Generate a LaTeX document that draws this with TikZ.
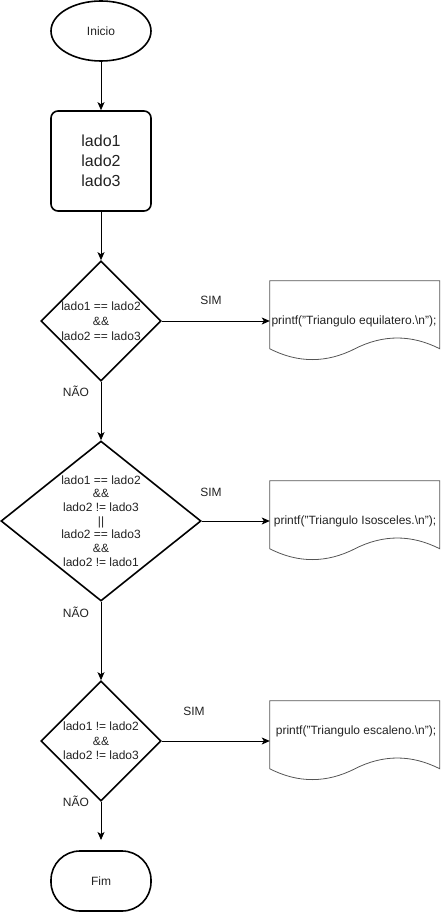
\documentclass[tikz,border=0pt]{standalone}
\usepackage{fontspec}
\setmainfont{Liberation Sans}
\usetikzlibrary{shapes.geometric,arrows.meta,calc}
\definecolor{txtc}{HTML}{222222}
\definecolor{docc}{HTML}{555555}
\tikzset{
  thick shape/.style={draw=black, line width=1.6pt, inner sep=0pt, text=txtc},
  term/.style={thick shape, ellipse, minimum width=100pt, minimum height=60pt, font=\fontsize{12}{14}\selectfont},
  inbox/.style={thick shape, rectangle, rounded corners=7pt, minimum width=100pt, minimum height=100pt, align=center, font=\fontsize{16}{20}\selectfont},
  dia/.style={thick shape, diamond},
  cond/.style={align=center, text=txtc, inner sep=0pt},
  docarea/.style={rectangle, inner sep=0pt, minimum width=170pt, minimum height=80pt},
  docline/.style={draw=docc, line width=0.8pt},
  doctext/.style={text=txtc, inner sep=0pt, font=\fontsize{12}{14}\selectfont},
  lbl/.style={text=txtc, inner sep=0pt, font=\fontsize{12}{14}\selectfont},
  flow/.style={draw=black, line width=0.9pt, -{Stealth[length=8pt,width=7pt,inset=2pt]}},
  fimbox/.style={thick shape, rectangle, rounded corners=29pt, minimum width=100pt, minimum height=60pt, font=\fontsize{12}{14}\selectfont}
}
\begin{document}
\begin{tikzpicture}[x=1pt,y=-1pt]
\useasboundingbox (0,0) rectangle (440,912);
% start
\node[term] (inicio) at (101,31) {Inicio};
\node[inbox] (lados) at (101,161) {lado1\\lado2\\lado3};
% decision 1
\node[dia, minimum width=120pt, minimum height=120pt] (d1) at (101,321) {};
\node[cond, font=\fontsize{12}{15}\selectfont] (t1) at (d1) {lado1 == lado2\\\&\&\\lado2 == lado3};
% decision 2
\node[dia, minimum width=200pt, minimum height=160pt] (d2) at (101,521) {};
\node[cond, font=\fontsize{12}{13.7}\selectfont] (t2) at (d2) {lado1 == lado2\\\&\&\\lado2 != lado3\\||\\lado2 == lado3\\\&\&\\lado2 != lado1};
% decision 3
\node[dia, minimum width=120pt, minimum height=120pt] (d3) at (101,741) {};
\node[cond, font=\fontsize{12}{14.5}\selectfont] (t3) at (d3) {lado1 != lado2\\\&\&\\lado2 != lado3};
% end
\coordinate (fimin) at (101,840);
\node[fimbox] (fim) at (101,881) {Fim};
% documents
\node[docarea] (p1) at (355,321) {};
\node[docarea] (p2) at (355,521) {};
\node[docarea] (p3) at (355,741) {};
\foreach \p in {p1,p2,p3}{
  \draw[docline, shift={(\p.north west)}] (0,0) -- (170,0) -- (170,68)
    .. controls (141.67,53.6) and (113.33,53.6) .. (85,68)
    .. controls (56.67,82.4) and (28.33,82.4) .. (0,68) -- cycle;
}
\node[doctext] (pt1) at (354,321) {printf("Triangulo equilatero.\textbackslash n");};
\node[doctext] (pt2) at (355,521) {printf("Triangulo Isosceles.\textbackslash n");};
\node[doctext] (pt3) at (356,731) {printf("Triangulo escaleno.\textbackslash n");};
% connectors
\draw[flow] (inicio.south) -- (lados.north);
\draw[flow] (lados.south) -- (d1.north);
\draw[flow] (d1.south) -- (d2.north);
\draw[flow] (d2.south) -- (d3.north);
\draw[flow] (d3.south) -- (fimin);
\draw[flow] (d1.east) -- (p1.west);
\draw[flow] (d2.east) -- (p2.west);
\draw[flow] (d3.east) -- (p3.west);
% labels
\node[lbl] (s1) at (211,300) {SIM};
\node[lbl] (s2) at (211,492) {SIM};
\node[lbl] (s3) at (194,711) {SIM};
\node[lbl] (n1) at (76,391) {NÃO};
\node[lbl] (n2) at (76,612) {NÃO};
\node[lbl] (n3) at (76,801) {NÃO};
\end{tikzpicture}
\end{document}
